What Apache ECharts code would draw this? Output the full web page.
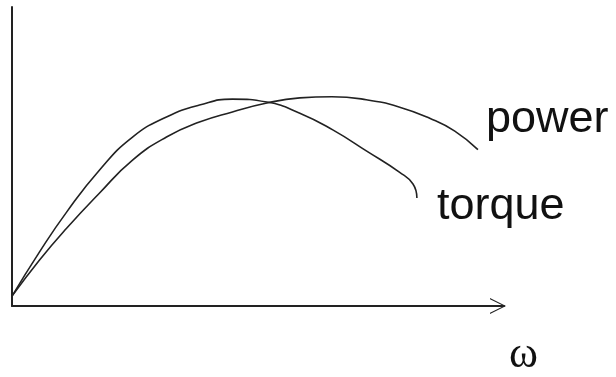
<!DOCTYPE html>
<html>
<head>
<meta charset="utf-8">
<script src="https://cdn.jsdelivr.net/npm/echarts@6/dist/echarts.min.js"></script>
<style>
  html, body { margin: 0; padding: 0; background: #fff; }
  #chart { width: 616px; height: 377px; }
</style>
</head>
<body>
<div id="chart"></div>
<script>
// speed (ω) and curve heights (axis units 0-100)
const torqueOmega = [0, 5.6, 11.1, 17.8, 24.5, 31.4, 38.1, 44.8, 51.8, 58.5, 65.2, 72.1, 78.8, 81.5, 82.3]
const torqueValues = [3.3, 18.1, 31.4, 45.5, 56.5, 63.2, 67.2, 69.2, 68.2, 64.5, 58.9, 51.8, 44.7, 40.8, 36.1]
const powerOmega = [0, 5.6, 11.1, 17.8, 24.5, 31.4, 38.1, 44.8, 51.8, 58.5, 65.0, 72.0, 78.8, 84.9, 90.0, 94.7]
const powerValues = [3.3, 15.4, 26.0, 37.8, 48.8, 56.5, 61.5, 64.9, 67.9, 69.6, 70.0, 69.0, 66.5, 62.8, 58.5, 52.3]

const pairs = (xs, ys) => xs.map((x, i) => [x, ys[i]])

const chart = echarts.init(document.getElementById('chart'))

// open arrow head (thin chevron pointing up, rotated by the axis)
const chevron = 'path://M50 0 L100 100 L92 100 L50 14 L8 100 L0 100 Z'

const labelFont = {
  fontFamily: '"Liberation Sans", Arial, sans-serif',
  fontSize: 45,
  color: '#111',
}

chart.setOption({
  backgroundColor: '#fff',
  animation: false,
  grid: {
    left: 12,
    top: 7,
    right: 112,
    bottom: 71,
  },
  xAxis: {
    type: 'value',
    min: 0,
    max: 100,
    axisLine: {
      show: true,
      symbol: ['none', chevron],
      symbolSize: [18, 16],
      symbolOffset: [0, -6],
      lineStyle: { color: '#222', width: 2 },
    },
    axisTick: { show: false },
    axisLabel: { show: false },
    splitLine: { show: false },
  },
  yAxis: {
    type: 'value',
    min: 0,
    max: 100,
    axisLine: {
      show: true,
      lineStyle: { color: '#222', width: 2 },
    },
    axisTick: { show: false },
    axisLabel: { show: false },
    splitLine: { show: false },
  },
  graphic: [
    {
      type: 'text',
      left: 509,
      top: 333,
      style: {
        text: 'ω',
        font: '44px "Liberation Serif", "Times New Roman", serif',
        fill: '#111',
      },
    },
  ],
  series: [
    {
      name: 'torque',
      type: 'line',
      smooth: 0.5,
      showSymbol: false,
      data: pairs(torqueOmega, torqueValues),
      lineStyle: { color: '#222', width: 1.6 },
      endLabel: {
        show: true,
        formatter: 'torque',
        offset: [12, 9],
        ...labelFont,
      },
    },
    {
      name: 'power',
      type: 'line',
      smooth: 0.5,
      showSymbol: false,
      data: pairs(powerOmega, powerValues),
      lineStyle: { color: '#222', width: 1.6 },
      endLabel: {
        show: true,
        formatter: 'power',
        offset: [0, -30],
        ...labelFont,
      },
    },
  ],
})
</script>
</body>
</html>
